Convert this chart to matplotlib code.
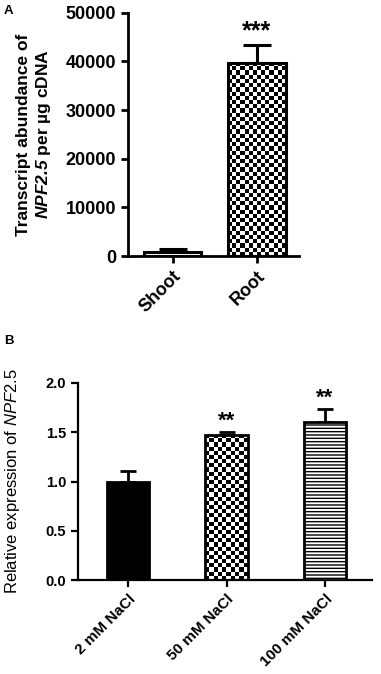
import numpy as np
import matplotlib
matplotlib.use("Agg")
import matplotlib.pyplot as plt

plt.rcParams['font.family'] = ['Liberation Sans', 'DejaVu Sans']
plt.rcParams['mathtext.fontset'] = 'custom'
plt.rcParams['mathtext.rm'] = 'Liberation Sans'
plt.rcParams['mathtext.it'] = 'Liberation Sans:italic'
plt.rcParams['mathtext.bf'] = 'Liberation Sans:bold'
plt.rcParams['mathtext.bfit'] = 'Liberation Sans:bold:italic'

# panel A data
tissues = ['Shoot', 'Root']
abundance = [900, 39700]
abundance_err = [600, 3700]
stars_a = ['', '***']

# panel B data
treatments = ['2 mM NaCl', '50 mM NaCl', '100 mM NaCl']
rel_expr = [1.00, 1.47, 1.60]
rel_err = [0.11, 0.03, 0.14]
stars_b = ['', '**', '**']


def checker_fill(ax, bar, cell_px=4.2):
    # checkerboard fill clipped to the bar
    x0, y0 = bar.get_x(), bar.get_y()
    x1, y1 = x0 + bar.get_width(), y0 + bar.get_height()
    p0 = ax.transData.transform((x0, y0))
    p1 = ax.transData.transform((x1, y1))
    nx_ = max(1, int(round(abs(p1[0] - p0[0]) / cell_px)))
    ny_ = max(1, int(round(abs(p1[1] - p0[1]) / cell_px)))
    ii, jj = np.indices((ny_, nx_))
    board = (ii + jj) % 2
    im = ax.imshow(board, cmap='gray', extent=(x0, x1, y0, y1),
                   aspect='auto', interpolation='nearest', zorder=2)
    im.set_clip_path(bar)


def style_axis(ax, lw):
    ax.spines['top'].set_visible(False)
    ax.spines['right'].set_visible(False)
    ax.spines['left'].set_linewidth(lw)
    ax.spines['bottom'].set_linewidth(lw)
    ax.tick_params(width=lw, length=5, direction='out')


fig = plt.figure(figsize=(3.81, 6.74), dpi=100)

# ---- panel A
axA = fig.add_axes([0.336, 0.620, 0.449, 0.361])
xa = np.arange(len(tissues))
axA.set_xlim(-0.53, 1.50)
axA.set_ylim(0, 50000)
barsA = axA.bar(xa, abundance, width=0.68, color=['white', 'white'],
                edgecolor='black', linewidth=2.2, zorder=3)
barsA[1].set_facecolor('none')
for i in range(len(tissues)):
    axA.errorbar(xa[i], abundance[i], yerr=[[0], [abundance_err[i]]],
                 color='black', capsize=10, capthick=2.2, elinewidth=2.2,
                 zorder=1)
    if stars_a[i]:
        axA.annotate(stars_a[i], (xa[i], abundance[i] + abundance_err[i]),
                     xytext=(0, 1), textcoords='offset points', ha='center',
                     va='bottom', fontsize=18, fontweight='bold')
checker_fill(axA, barsA[1])
style_axis(axA, 2.0)
axA.set_yticks([0, 10000, 20000, 30000, 40000, 50000])
axA.set_xticks(xa)
axA.set_xticklabels(tissues, rotation=45, ha='right', rotation_mode='anchor',
                    fontsize=13, fontweight='bold')
for lab in axA.get_yticklabels():
    lab.set_fontsize(13)
    lab.set_fontweight('bold')
axA.set_ylabel('Transcript abundance of\n$\\mathbfit{NPF2.5}$ per \u00b5g cDNA',
               fontsize=12.5, fontweight='bold', labelpad=9)
fig.text(0.01, 0.992, 'A', fontsize=9.5, fontweight='bold', va='top')

# ---- panel B
axB = fig.add_axes([0.205, 0.139, 0.772, 0.293])
xb = np.arange(len(treatments))
axB.set_xlim(-0.51, 2.48)
axB.set_ylim(0, 2.0)
barsB = axB.bar(xb, rel_expr, width=0.43, color=['black', 'white', 'white'],
                edgecolor='black', linewidth=2.0, zorder=3)
barsB[1].set_facecolor('none')
barsB[2].set_hatch('-----')
for i in range(len(treatments)):
    axB.errorbar(xb[i], rel_expr[i], yerr=[[0], [rel_err[i]]],
                 color='black', capsize=5.5, capthick=2.0, elinewidth=2.0,
                 zorder=1)
    if stars_b[i]:
        axB.annotate(stars_b[i], (xb[i], rel_expr[i] + rel_err[i]),
                     xytext=(0, 0), textcoords='offset points', ha='center',
                     va='bottom', fontsize=16, fontweight='bold')
checker_fill(axB, barsB[1])
style_axis(axB, 1.6)
axB.set_yticks([0.0, 0.5, 1.0, 1.5, 2.0])
axB.set_yticklabels(['0.0', '0.5', '1.0', '1.5', '2.0'], fontsize=10.5,
                    fontweight='bold')
axB.set_xticks(xb)
axB.set_xticklabels(treatments, rotation=45, ha='right', rotation_mode='anchor',
                    fontsize=11, fontweight='bold')
axB.set_ylabel('Relative expression of $\\mathit{NPF2.5}$', fontsize=12,
               labelpad=17)
fig.text(0.01, 0.503, 'B', fontsize=9.5, fontweight='bold', va='top')

fig.savefig('out.png', dpi=100)
